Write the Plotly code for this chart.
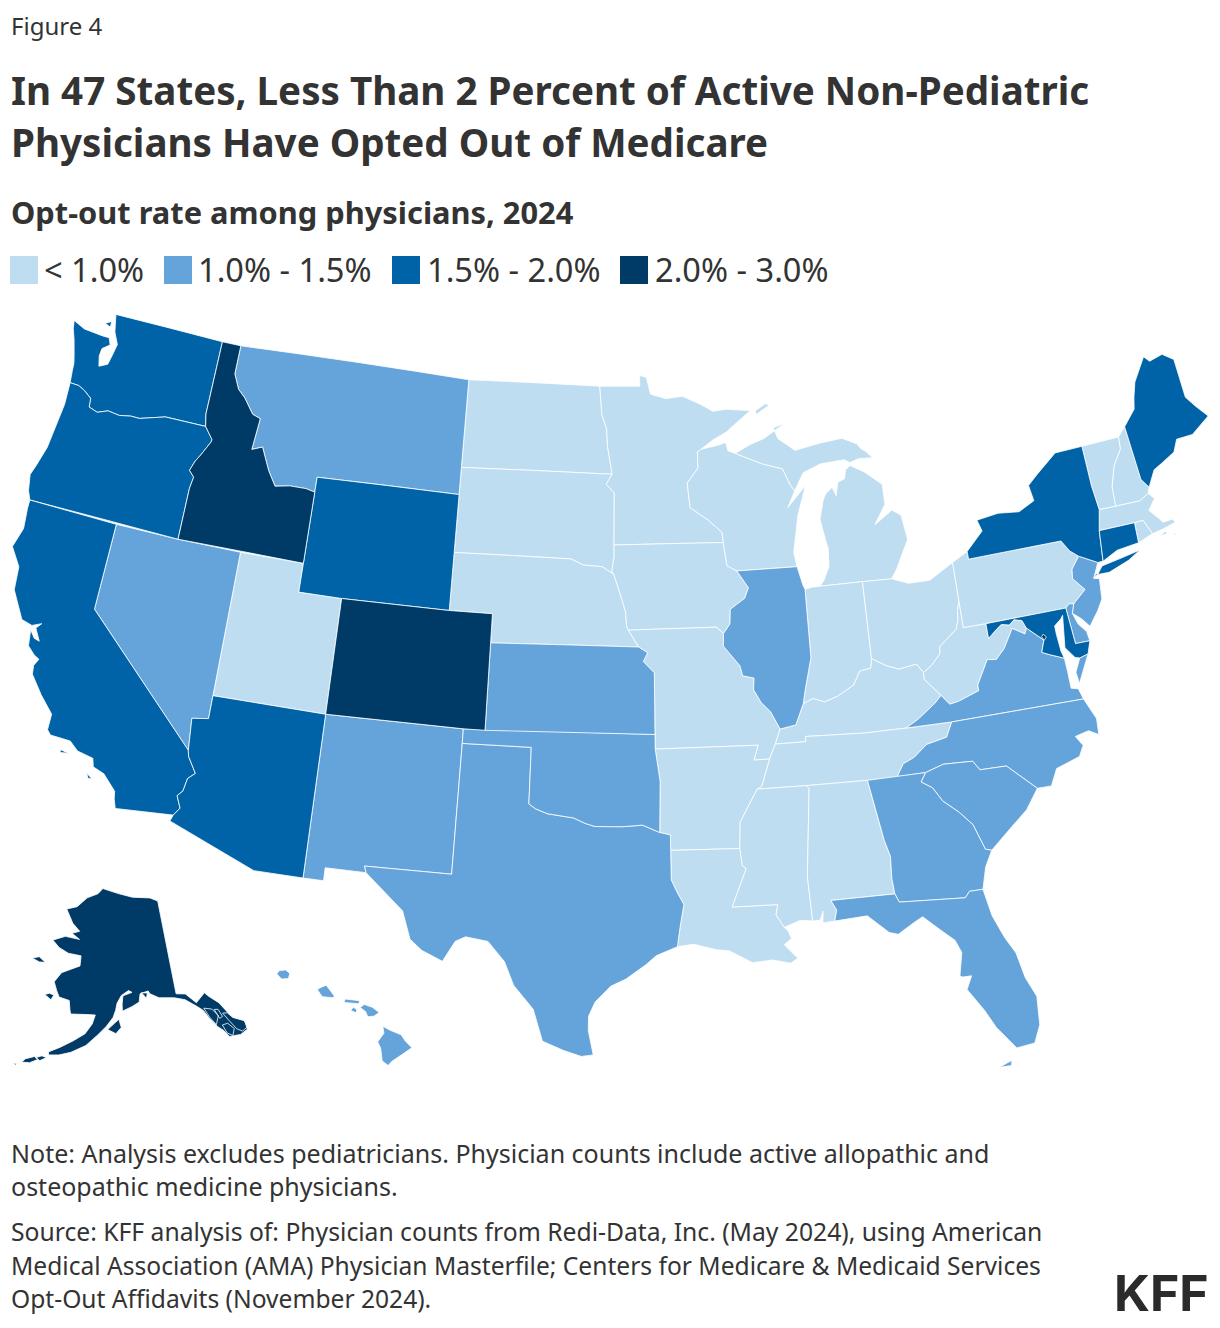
import math
import plotly.graph_objects as go

# ---------- data ----------
CATEGORIES = ["< 1.0%", "1.0% - 1.5%", "1.5% - 2.0%", "2.0% - 3.0%"]
COLORS = ["#BEDDF1", "#64A4DB", "#0063A7", "#003B68"]
BELOW_1 = ["ND","SD","NE","MN","IA","MO","WI","MI","IN","OH","KY","WV","PA","TN","AR","LA","MS","AL","UT","VT","NH","MA","RI"]
FROM_1_TO_15 = ["MT","NV","NM","TX","OK","KS","IL","VA","NC","SC","GA","FL","NJ","DE","HI"]
FROM_15_TO_2 = ["WA","OR","CA","AZ","WY","NY","CT","ME","MD"]
FROM_2_TO_3 = ["ID","CO","AK","DC"]
GROUPS = [BELOW_1, FROM_1_TO_15, FROM_15_TO_2, FROM_2_TO_3]

# shared boundary lines (lon, lat)
COLUMBIA = [(-116.92,46.0),(-118.98,46.0),(-119.3,45.93),(-120.2,45.73),(-120.65,45.73),(-121.2,45.65),(-121.8,45.7),(-122.3,45.55),(-122.75,45.65),(-122.8,45.95),(-123.2,46.15),(-123.55,46.26),(-124.0,46.27)]
SNAKE = [(-117.03,42.0),(-117.03,43.8),(-116.95,44.2),(-117.22,44.4),(-117.05,44.75),(-116.85,45.0),(-116.5,45.5),(-116.47,45.6),(-116.92,46.0)]
BITTERROOT = [(-116.05,49.0),(-116.05,48.0),(-115.7,47.5),(-115.3,47.25),(-114.75,46.75),(-114.33,46.65),(-114.45,45.55),(-113.95,45.7),(-113.45,44.95),(-113.0,44.45),(-112.3,44.55),(-111.5,44.55),(-111.05,44.48)]
COLORADO_R = [(-114.63,35.0),(-114.57,34.8),(-114.15,34.27),(-114.43,34.05),(-114.52,33.6),(-114.72,33.4),(-114.5,33.0),(-114.72,32.72)]
RED_R = [(-100.0,34.56),(-99.7,34.4),(-99.2,34.25),(-98.1,34.13),(-97.6,33.95),(-97.2,33.85),(-96.6,33.85),(-96.0,33.85),(-95.2,33.9),(-94.48,33.64)]
SABINE = [(-94.04,33.02),(-94.04,32.0),(-93.8,31.55),(-93.55,31.15),(-93.72,30.4),(-93.85,29.7)]
RED_N = [(-97.23,49.0),(-97.1,48.0),(-96.85,47.5),(-96.8,46.9),(-96.56,45.94)]
MO_UPPER = [(-96.45,43.5),(-96.44,43.1),(-96.55,42.6),(-96.45,42.49)]
SD_NE = [(-104.05,43.0),(-98.5,43.0),(-97.9,42.8),(-97.0,42.75),(-96.45,42.49)]
MO_MID = [(-96.45,42.49),(-96.1,41.7),(-95.9,41.2),(-95.85,40.7),(-95.77,40.58)]
MN_WI = [(-92.1,46.75),(-92.29,46.66),(-92.29,46.1),(-92.85,45.6),(-92.75,44.75),(-91.9,44.3),(-91.25,43.85),(-91.22,43.5)]
MS_IA_WI = [(-91.22,43.5),(-91.1,42.7),(-90.65,42.5)]
MS_IA_IL = [(-90.65,42.5),(-90.15,41.9),(-90.35,41.55),(-91.05,41.2),(-91.1,40.7),(-91.42,40.38)]
MS_MO_IL = [(-91.42,40.38),(-91.45,39.95),(-90.75,39.25),(-90.65,38.9),(-90.15,38.8),(-90.2,38.4),(-89.9,37.95),(-89.5,37.6),(-89.15,37.0)]
MS_MO_KY = [(-89.15,37.0),(-89.4,36.5),(-89.7,36.0)]
MS_AR_TN = [(-89.7,36.0),(-90.1,35.1),(-90.3,35.0)]
MS_AR_MS = [(-90.3,35.0),(-90.6,34.6),(-91.1,33.9),(-91.17,33.0)]
MS_LA_MS = [(-91.17,33.0),(-91.1,32.4),(-90.95,32.3),(-91.6,31.0),(-89.75,31.0),(-89.85,30.65),(-89.55,30.2)]
OHIO_IL = [(-87.53,39.35),(-87.9,38.3),(-88.05,37.8),(-88.45,37.1),(-89.15,37.0)]
OHIO_IN = [(-84.82,39.1),(-84.9,38.78),(-85.4,38.73),(-85.75,38.27),(-86.5,37.95),(-87.1,37.8),(-87.6,37.95),(-88.05,37.8)]
OHIO_OH = [(-82.6,38.4),(-82.85,38.72),(-83.65,38.63),(-84.2,38.8),(-84.82,39.1)]
OHIO_WV = [(-80.52,40.64),(-80.65,40.35),(-80.7,40.0),(-80.85,39.7),(-81.7,39.2),(-81.75,38.95),(-82.2,38.6),(-82.6,38.4)]
SAVANNAH = [(-83.11,35.0),(-83.35,34.7),(-82.9,34.45),(-82.55,33.95),(-81.95,33.5),(-81.45,33.0),(-81.1,32.1),(-80.85,32.03)]
NC_SC = [(-83.11,35.0),(-82.3,35.2),(-81.05,35.15),(-80.8,34.82),(-79.67,34.8),(-78.55,33.86)]
NC_TN = [(-84.32,34.99),(-84.0,35.4),(-83.5,35.57),(-82.9,35.95),(-82.0,36.1),(-81.68,36.59)]
KY_VA = [(-83.68,36.6),(-83.1,36.85),(-82.3,37.3),(-81.97,37.54)]
KY_WV = [(-81.97,37.54),(-82.6,38.17),(-82.6,38.4)]
VA_WV = [(-81.97,37.54),(-81.65,37.2),(-81.25,37.25),(-80.3,37.5),(-80.3,37.7),(-79.7,38.5),(-79.3,38.45),(-78.87,38.77),(-78.35,39.4),(-77.83,39.13),(-77.72,39.32)]
POTOMAC_WV = [(-77.72,39.32),(-77.85,39.6),(-78.2,39.68),(-78.45,39.53),(-78.8,39.6),(-79.05,39.47),(-79.48,39.2),(-79.48,39.72)]
POTOMAC_VA = [(-77.72,39.32),(-77.05,38.8),(-77.25,38.4),(-76.95,38.28),(-76.32,38.05)]
DELAWARE_PA = [(-74.7,41.36),(-75.13,40.97),(-75.2,40.65),(-74.75,40.2),(-75.4,39.8)]
NY_PA = [(-79.76,42.27),(-79.76,42.0),(-75.35,42.0),(-75.05,41.6),(-74.7,41.36)]
CT_R_VT = [(-71.5,45.01),(-71.55,44.6),(-72.05,44.1),(-72.4,43.4),(-72.46,42.73)]
FL_GA = [(-81.45,30.75),(-82.0,30.75),(-82.2,30.55),(-84.86,30.7),(-85.0,31.0)]
AL_GA = [(-85.6,34.98),(-85.18,32.87),(-85.0,32.3),(-85.05,31.55),(-85.0,31.0)]
AL_MS = [(-88.2,35.0),(-88.1,34.9),(-88.47,31.9),(-88.4,30.35)]

def rev(a):
    return a[::-1]

SHAPES = {
 "WA": [[(-124.73,48.38),(-124.1,48.2),(-123.1,48.15),(-122.75,48.15),(-122.6,47.92),(-122.95,47.72),(-122.98,47.45),(-122.85,47.1),(-122.45,47.25),(-122.35,47.6),(-122.25,48.0),(-122.55,48.4),(-122.75,49.0),(-117.03,49.0),(-117.04,46.42),(-116.92,46.0)]+COLUMBIA[1:]+[(-124.07,46.7),(-124.1,46.95),(-124.2,47.2),(-124.45,47.75),(-124.65,48.1)],
        [(-123.15,48.6),(-122.85,48.72),(-122.85,48.52)]],
 "OR": [[(-124.0,46.27),(-123.95,45.5),(-124.05,44.7),(-124.15,43.9),(-124.4,43.2),(-124.55,42.84),(-124.4,42.3),(-124.21,42.0)]+SNAKE+COLUMBIA[1:-1]],
 "CA": [[(-124.21,42.0),(-120.0,42.0),(-120.0,39.0)]+COLORADO_R+[(-117.12,32.53),(-117.25,32.85),(-117.3,33.1),(-117.9,33.6),(-118.4,33.75),(-118.5,34.03),(-119.2,34.15),(-119.6,34.42),(-120.47,34.45),(-120.65,34.6),(-120.65,35.15),(-121.3,35.7),(-121.9,36.3),(-121.95,36.6),(-121.8,36.85),(-122.05,36.95),(-122.4,37.2),(-122.5,37.75),(-122.25,37.5),(-122.0,37.45),(-122.3,37.85),(-122.1,38.05),(-122.5,37.9),(-123.0,38.0),(-123.7,38.9),(-123.8,39.7),(-124.35,40.3),(-124.1,41.0),(-124.2,41.7)],
        [(-119.9,34.05),(-119.55,34.0),(-119.9,33.95)],[(-118.6,33.48),(-118.35,33.35),(-118.5,33.32)]],
 "NV": [[(-120.0,42.0),(-117.03,42.0),(-114.04,42.0),(-114.04,36.2),(-114.75,36.1),(-114.63,35.0),(-120.0,39.0)]],
 "ID": [[(-117.03,49.0)]+BITTERROOT+[(-111.05,42.0)]+SNAKE+[(-117.04,46.42)]],
 "MT": [[(-116.05,49.0),(-104.05,49.0),(-104.05,45.94),(-104.05,45.0),(-111.05,45.0),(-111.05,44.48)]+rev(BITTERROOT)[1:-1]],
 "WY": [[(-111.05,45.0),(-104.05,45.0),(-104.05,43.0),(-104.05,41.0),(-109.05,41.0),(-111.05,41.0),(-111.05,42.0),(-111.05,44.48)]],
 "UT": [[(-114.04,42.0),(-111.05,42.0),(-111.05,41.0),(-109.05,41.0),(-109.05,37.0),(-114.04,37.0)]],
 "CO": [[(-109.05,41.0),(-104.05,41.0),(-102.05,41.0),(-102.05,40.0),(-102.05,37.0),(-103.0,37.0),(-109.05,37.0)]],
 "AZ": [[(-114.04,37.0),(-109.05,37.0),(-109.05,31.33),(-111.07,31.33),(-114.81,32.5)]+rev(COLORADO_R)+[(-114.75,36.1),(-114.04,36.2)]],
 "NM": [[(-109.05,37.0),(-103.0,37.0),(-103.0,36.5),(-103.04,32.0),(-106.62,32.0),(-106.53,31.78),(-108.21,31.78),(-108.21,31.33),(-109.05,31.33)]],
 "ND": [[(-104.05,49.0)]+RED_N+[(-104.05,45.94)]],
 "SD": [[(-104.05,45.94),(-96.56,45.94),(-96.85,45.6),(-96.45,45.3)]+MO_UPPER+rev(SD_NE)[1:]],
 "NE": [SD_NE+MO_MID+[(-95.31,40.0),(-102.05,40.0),(-102.05,41.0),(-104.05,41.0)]],
 "KS": [[(-102.05,40.0),(-95.31,40.0),(-94.9,39.8),(-95.1,39.5),(-94.61,39.11),(-94.62,37.0),(-102.05,37.0)]],
 "OK": [[(-103.0,37.0),(-94.62,37.0),(-94.62,36.5),(-94.43,35.4)]+rev(RED_R)+[(-100.0,36.5),(-103.0,36.5)]],
 "TX": [[(-103.0,36.5),(-100.0,36.5)]+RED_R+[(-94.04,33.55)]+SABINE+[(-94.7,29.4),(-95.1,29.1),(-95.9,28.6),(-96.5,28.35),(-97.1,27.8),(-97.35,27.3),(-97.35,26.8),(-97.15,25.96),(-97.6,25.9),(-98.3,26.1),(-99.1,26.4),(-99.5,27.5),(-100.3,28.3),(-100.7,29.1),(-101.4,29.77),(-102.3,29.88),(-102.7,29.7),(-103.15,28.98),(-104.0,29.3),(-104.5,29.65),(-104.9,30.6),(-106.0,31.4),(-106.53,31.78),(-106.62,32.0),(-103.04,32.0)]],
 "MN": [[(-97.23,49.0),(-95.15,49.0),(-95.15,49.38),(-94.8,49.3),(-94.6,48.72),(-93.8,48.55),(-92.95,48.62),(-92.0,48.3),(-91.4,48.05),(-90.75,48.1),(-89.5,48.0),(-90.8,47.3),(-91.5,47.05)]+MN_WI+[(-96.45,43.5),(-96.45,45.3),(-96.85,45.6)]+rev(RED_N)[:-1]],
 "IA": [[(-96.45,43.5),(-91.22,43.5)]+MS_IA_WI[1:]+MS_IA_IL[1:]+[(-91.73,40.61),(-95.77,40.58)]+rev(MO_MID)[1:]+rev(MO_UPPER)[1:]],
 "MO": [[(-95.77,40.58),(-91.73,40.61)]+MS_MO_IL+MS_MO_KY[1:]+[(-90.37,36.0),(-90.15,36.5),(-94.62,36.5),(-94.62,37.0),(-94.61,39.11),(-95.1,39.5),(-94.9,39.8),(-95.31,40.0)]],
 "AR": [[(-94.62,36.5),(-90.15,36.5),(-90.37,36.0),(-89.7,36.0)]+MS_AR_TN[1:]+MS_AR_MS[1:]+[(-94.04,33.02),(-94.04,33.55),(-94.48,33.64),(-94.43,35.4)]],
 "LA": [[(-94.04,33.02)]+MS_LA_MS+[(-89.4,30.05),(-89.3,29.8),(-89.6,29.6),(-89.1,29.1),(-89.4,28.95),(-90.1,29.1),(-90.9,29.05),(-91.8,29.5),(-92.3,29.55),(-93.2,29.77)]+rev(SABINE)[:-1]],
 "MS": [[(-90.3,35.0),(-88.2,35.0)]+AL_MS[1:]+[(-88.9,30.4)]+rev(MS_LA_MS)+rev(MS_AR_MS)[1:-1]],
 "AL": [[(-88.2,35.0)]+AL_GA+[(-87.6,31.0),(-87.4,30.65),(-87.52,30.28),(-88.0,30.25),(-87.95,30.65),(-88.1,30.35)]+rev(AL_MS)[:-1]],
 "GA": [[(-85.6,34.98)]+SAVANNAH+[(-81.2,31.5)]+FL_GA+rev(AL_GA)[1:-1]],
 "FL": [[(-87.6,31.0),(-85.0,31.0)]+rev(FL_GA)[1:]+[(-81.25,29.8),(-80.9,29.0),(-80.55,28.4),(-80.35,27.5),(-80.03,26.8),(-80.1,25.8),(-80.4,25.2),(-81.1,25.13),(-81.75,25.95),(-82.1,26.6),(-82.65,27.4),(-82.4,27.85),(-82.75,27.85),(-82.85,27.9),(-82.65,28.7),(-82.85,29.15),(-83.4,29.6),(-84.0,30.1),(-84.35,29.95),(-85.05,29.6),(-85.4,29.7),(-86.2,30.35),(-87.52,30.28),(-87.4,30.65)],
        [(-81.85,24.55),(-81.5,24.68),(-81.35,24.72),(-81.4,24.55)]],
 "SC": [NC_SC+[(-79.15,33.2),(-79.9,32.7)]+rev(SAVANNAH)[:-1]],
 "NC": [[(-84.32,34.99),(-83.11,35.0)]+NC_SC[1:]+[(-77.95,33.85),(-77.6,34.4),(-76.55,34.65),(-76.3,35.0),(-76.55,35.35),(-75.95,35.45),(-75.55,35.25),(-75.5,35.8),(-75.87,36.55),(-81.68,36.59)]+rev(NC_TN)[1:-1]],
 "TN": [[(-90.3,35.0),(-88.2,35.0),(-85.6,34.98),(-84.32,34.99)]+NC_TN[1:]+[(-83.68,36.6),(-85.5,36.6),(-88.07,36.68),(-88.07,36.5),(-89.4,36.5),(-89.7,36.0),(-90.1,35.1)]],
 "KY": [[(-89.15,37.0),(-89.4,36.5),(-88.07,36.5),(-88.07,36.68),(-85.5,36.6)]+KY_VA+KY_WV[1:]+OHIO_OH[1:]+OHIO_IN[1:]+OHIO_IL[3:]],
 "WV": [KY_WV+rev(OHIO_WV)[1:]+[(-80.52,39.72),(-79.48,39.72)]+rev(POTOMAC_WV)[1:]+rev(VA_WV)[1:-1]],
 "OH": [[(-84.82,41.76),(-83.45,41.73),(-82.7,41.5),(-81.7,41.5),(-80.52,41.98)]+OHIO_WV+OHIO_OH[1:]],
 "IN": [[(-87.52,41.7),(-87.2,41.75),(-86.82,41.76),(-84.82,41.76)]+OHIO_IN+[(-87.9,38.3),(-87.53,39.35)]],
 "IL": [[(-90.65,42.5),(-87.8,42.5),(-87.6,41.85),(-87.52,41.7)]+OHIO_IL+rev(MS_MO_IL)[1:]+rev(MS_IA_IL)[1:-1]],
 "WI": [[(-90.65,42.5),(-87.8,42.5),(-87.9,43.0),(-87.7,43.7),(-87.55,44.25),(-87.05,45.25),(-87.6,44.85),(-88.0,44.55),(-87.6,45.1),(-87.8,45.35),(-88.1,45.9),(-89.1,46.13),(-90.4,46.55),(-90.75,46.65),(-90.85,46.95),(-91.2,46.87)]+MN_WI+MS_IA_WI[1:-1]],
 "MI": [[(-86.82,41.76),(-84.82,41.76),(-83.45,41.73),(-83.15,42.05),(-82.9,42.4),(-82.45,43.0),(-82.6,43.85),(-83.0,44.07),(-83.9,43.65),(-83.3,44.3),(-83.3,45.0),(-84.1,45.5),(-84.75,45.78),(-85.0,45.65),(-85.1,45.35),(-85.45,45.25),(-85.6,44.8),(-85.75,45.1),(-86.1,44.9),(-86.25,44.7),(-86.5,44.05),(-86.4,43.6),(-86.25,43.0),(-86.3,42.4),(-86.6,41.95)],
        [(-90.4,46.55),(-89.1,46.13),(-88.1,45.9),(-87.8,45.35),(-87.6,45.1),(-87.1,45.7),(-86.2,45.95),(-85.0,46.0),(-84.75,45.88),(-84.3,45.98),(-83.6,45.95),(-83.9,46.2),(-84.1,46.3),(-84.3,46.5),(-85.0,46.75),(-86.1,46.67),(-87.4,46.5),(-88.2,46.95),(-88.4,47.35),(-87.8,47.47),(-88.9,47.0),(-89.6,46.83)],
        [(-89.2,47.85),(-88.5,48.15),(-88.7,48.2),(-89.25,47.98)]],
 "PA": [[(-80.52,41.98)]+NY_PA+DELAWARE_PA[1:]+[(-75.6,39.84),(-75.79,39.72),(-79.48,39.72),(-80.52,39.72),(-80.52,40.64)]],
 "NY": [[(-79.76,42.27),(-79.76,42.0),(-75.35,42.0),(-75.05,41.6),(-74.7,41.36),(-73.9,41.0),(-73.65,41.0),(-73.49,42.05),(-73.26,42.75),(-73.35,43.6),(-73.35,45.01),(-74.7,45.0),(-75.8,44.4),(-76.3,44.1),(-76.2,43.55),(-77.0,43.28),(-78.0,43.37),(-79.05,43.27),(-78.9,42.87)],
        [(-74.03,40.6),(-73.75,40.85),(-72.6,40.98),(-71.87,41.07),(-72.5,40.82),(-73.5,40.58)],[(-74.25,40.52),(-74.07,40.65),(-74.05,40.6)]],
 "NJ": [[(-74.7,41.36),(-73.9,41.0),(-74.25,40.5),(-74.0,40.45),(-74.1,39.75),(-74.4,39.4),(-74.9,38.93),(-75.2,39.25),(-75.55,39.5),(-75.4,39.8),(-74.75,40.2),(-75.2,40.65),(-75.13,40.97)]],
 "DE": [[(-75.79,39.72),(-75.6,39.84),(-75.4,39.8),(-75.55,39.5),(-75.4,39.1),(-75.1,38.78),(-75.05,38.45),(-75.7,38.46)]],
 "MD": [[(-79.48,39.72),(-75.79,39.72),(-75.7,38.46),(-75.05,38.45),(-75.25,38.03),(-75.65,37.95),(-75.85,38.0),(-76.2,38.4),(-76.1,38.95),(-76.0,39.5),(-76.1,39.4),(-76.45,39.2),(-76.45,38.9),(-76.4,38.3),(-76.32,38.05),(-76.95,38.28),(-77.25,38.4),(-77.05,38.8),(-77.72,39.32),(-77.85,39.6),(-78.2,39.68),(-78.45,39.53),(-78.8,39.6),(-79.05,39.47),(-79.48,39.2)]],
 "DC": [[(-77.12,38.93),(-77.03,39.0),(-76.91,38.89),(-77.04,38.79)]],
 "VA": [[(-83.68,36.6),(-81.68,36.59),(-75.87,36.55),(-76.0,36.93),(-76.3,37.0),(-76.3,37.55),(-76.32,38.05)]+rev(POTOMAC_VA)[1:-1]+[(-77.72,39.32)]+rev(VA_WV)[1:-1]+[(-81.97,37.54)]+rev(KY_VA)[1:-1],
        [(-75.65,37.95),(-75.25,38.03),(-75.9,37.1),(-75.95,37.5)]],
 "VT": [[(-73.35,45.01),(-71.5,45.01)]+CT_R_VT[1:]+[(-73.26,42.75),(-73.35,43.6)]],
 "NH": [[(-71.5,45.01),(-71.08,45.3),(-70.98,43.4),(-70.7,43.07),(-70.82,42.87),(-71.3,42.7)]+rev(CT_R_VT)[:-1]],
 "ME": [[(-71.08,45.3),(-70.4,45.8),(-70.25,46.2),(-70.0,46.7),(-69.23,47.46),(-69.0,47.25),(-68.3,47.36),(-67.8,47.07),(-67.8,45.7),(-67.45,45.3),(-67.0,44.85),(-68.0,44.4),(-68.8,44.4),(-69.1,44.0),(-69.8,43.75),(-70.25,43.6),(-70.7,43.07),(-70.98,43.4)]],
 "MA": [[(-73.49,42.05),(-73.26,42.75),(-72.46,42.73),(-71.3,42.7),(-70.82,42.87),(-70.6,42.65),(-71.0,42.3),(-70.65,41.95),(-70.5,41.78),(-70.05,41.8),(-70.2,42.07),(-69.95,41.67),(-70.65,41.55),(-71.12,41.5),(-71.38,42.02),(-71.8,42.02)],
        [(-70.8,41.35),(-70.5,41.47),(-70.45,41.37)],[(-70.25,41.3),(-70.0,41.3),(-70.1,41.25)]],
 "RI": [[(-71.8,42.02),(-71.38,42.02),(-71.12,41.5),(-71.85,41.32)]],
 "CT": [[(-73.49,42.05),(-71.8,42.02),(-71.85,41.32),(-72.9,41.25),(-73.65,41.0)]],
 "AK": [[(-141.0,69.65),(-143.0,70.1),(-148.0,70.4),(-152.0,70.85),(-156.6,71.35),(-158.0,70.8),(-161.0,70.3),(-163.5,69.3),(-166.2,68.9),(-164.0,67.6),(-162.0,66.9),(-163.8,66.6),(-161.8,66.1),(-165.3,66.2),(-168.1,65.6),(-166.3,65.0),(-164.0,64.6),(-161.0,64.5),(-161.0,63.5),(-163.0,63.05),(-164.8,62.6),(-166.0,61.6),(-165.2,60.8),(-164.5,60.2),(-162.4,60.0),(-162.0,59.0),(-161.8,58.7),(-158.5,58.8),(-157.1,58.8),(-157.6,57.9),(-158.8,56.9),(-160.8,56.1),(-163.0,55.3),(-164.8,54.7),(-164.7,54.4),(-163.0,54.55),(-161.0,54.95),(-158.5,55.75),(-156.5,56.85),(-154.9,57.75),(-153.7,58.6),(-153.2,59.3),(-152.9,60.0),(-152.0,60.75),(-150.5,61.2),(-149.8,61.0),(-151.7,60.7),(-151.9,59.9),(-151.9,59.2),(-150.0,59.6),(-148.5,60.0),(-148.2,60.8),(-146.5,61.0),(-146.2,60.7),(-144.5,60.2),(-141.5,59.95),(-139.5,59.55),(-137.6,58.65),(-136.6,58.1),(-135.9,57.2),(-134.9,56.2),(-134.0,55.6),(-133.4,54.9),(-131.5,54.75),(-130.1,55.0),(-130.0,55.9),(-131.8,56.6),(-132.2,57.0),(-133.4,58.4),(-134.9,59.3),(-135.5,59.75),(-137.5,59.0),(-139.2,60.1),(-141.0,60.3)],
        [(-136.4,58.3),(-135.0,58.0),(-134.2,57.2),(-135.0,56.4),(-135.8,57.3)],[(-134.6,57.9),(-133.9,57.8),(-133.5,57.0),(-134.1,56.9)],[(-134.0,56.2),(-133.0,56.2),(-132.2,55.5),(-132.8,54.9),(-133.6,55.3)],[(-133.3,57.3),(-132.5,57.2),(-131.8,56.6),(-130.1,55.9),(-130.0,55.2),(-131.0,55.0),(-131.8,55.4),(-132.6,56.4)],
        [(-154.7,57.4),(-153.2,57.0),(-152.2,57.6),(-152.6,58.4),(-153.5,58.0)],[(-167.4,60.2),(-166.0,59.8),(-165.6,60.3),(-166.5,60.4)],[(-171.7,63.4),(-170.0,63.2),(-168.7,63.3),(-170.3,63.7)],[(-147.9,60.9),(-147.0,60.3),(-146.7,60.8)],
        [(-166.8,53.9),(-166.0,53.7),(-165.0,54.1),(-165.8,54.2)],[(-168.9,53.2),(-167.6,53.3),(-166.3,53.8),(-167.0,54.0),(-168.4,53.6)],[(-170.2,52.9),(-169.7,52.75),(-169.7,52.95)],[(-174.5,52.2),(-173.0,52.1),(-173.6,52.3)],[(-176.9,51.8),(-176.0,51.7),(-176.5,52.0)],[(-178.2,51.75),(-177.5,51.75),(-177.8,51.9)]],
 "HI": [[(-155.87,20.27),(-155.6,20.13),(-155.2,19.97),(-155.05,19.75),(-154.81,19.52),(-155.2,19.27),(-155.55,19.05),(-155.68,18.91),(-155.9,19.07),(-155.95,19.5),(-156.06,19.73),(-155.83,20.03)],
        [(-156.7,20.92),(-156.5,20.78),(-156.42,20.6),(-156.2,20.62),(-156.0,20.75),(-156.25,20.93),(-156.55,21.03)],[(-157.3,21.1),(-156.75,21.05),(-156.72,21.16),(-157.25,21.22)],[(-157.05,20.82),(-156.85,20.74),(-156.82,20.85),(-156.95,20.93)],
        [(-158.28,21.55),(-158.1,21.3),(-157.7,21.26),(-157.65,21.32),(-157.95,21.7),(-158.15,21.62)],[(-159.78,22.08),(-159.6,21.9),(-159.35,21.92),(-159.3,22.1),(-159.45,22.22),(-159.68,22.2)]],
}

def signed_area(ring):
    return sum(a[0]*b[1]-b[0]*a[1] for a, b in zip(ring, ring[1:]+ring[:1]))

def paths(rings):
    lons, lats = [], []
    for r in rings:
        if signed_area(r) > 0:
            r = r[::-1]
        r = r + [r[0]]
        lons += [p[0] for p in r] + [None]
        lats += [p[1] for p in r] + [None]
    return lons[:-1], lats[:-1]

W, H = 1212, 1320   # page body margin shifts the figure by 8 px
def X(p): return (p-8)/W
def Y(p): return 1-(p-8)/H

# Fit box for the albers-usa projection, so that the frame holds the whole map at the wanted size.
K = 1658.0                    # projection scale in px
MAP_L, MAP_R = 8.0, 1212.0    # frame left/right in page px
MAP_T, MAP_B = 292.0, 1078.0  # frame top/bottom in page px
HX, HY = (MAP_R-MAP_L)/2/K, (MAP_B-MAP_T)/2/K
_s0, _s1 = math.sin(math.radians(29.5)), math.sin(math.radians(45.5))
_n = (_s0+_s1)/2
_c = 1+_s0*(2*_n-_s0)
_r0 = math.sqrt(_c)/_n
def raw(lon, lat):
    r = math.sqrt(_c-2*_n*math.sin(math.radians(lat)))/_n
    a = math.radians(lon+96)*_n
    return r*math.sin(a), _r0-r*math.cos(a)
_cx, _cy = raw(-96.6, 38.7)
def px(lon, lat):
    x, y = raw(lon, lat)
    return x-_cx, -(y-_cy)
def solve(f, lo, hi):
    flo = f(lo)
    for _ in range(60):
        mid = (lo+hi)/2
        if (f(mid) > 0) == (flo > 0):
            lo = mid
        else:
            hi = mid
    return (lo+hi)/2
lat_s = solve(lambda la: px(-96, la)[1]-HY, 5, 38)
lon_w = solve(lambda lo: px(lo, lat_s)[0]+HX, -160, -96)
lon_e = solve(lambda lo: px(lo, lat_s)[0]-HX, -96, -40)
lat_n = solve(lambda la: min(px(lon_w, la)[1], px(lon_e, la)[1])+HY, 38, 75)

fig = go.Figure()
for color, group, cat in zip(COLORS, GROUPS, CATEGORIES):
    for st in group:
        lo, la = paths(SHAPES[st])
        fig.add_trace(go.Scattergeo(lon=lo, lat=la, mode="lines", fill="toself", fillcolor=color,
            line=dict(color="white", width=0.8), name=st, hoverinfo="name", showlegend=False))

TXT="#333333"; FONT="Noto Sans"
def text(x,y,s,size,bold=False,color=TXT,family=FONT):
    fig.add_annotation(xref="paper",yref="paper",x=X(x),y=Y(y),xanchor="left",yanchor="middle",showarrow=False,
        text=f"<b>{s}</b>" if bold else s,font=dict(family=family,size=size,color=color),align="left",borderpad=0)

text(10,25,"Figure 4",24)
text(10,90,"In 47 States, Less Than 2 Percent of Active Non-Pediatric",38.6,True)
text(10,142,"Physicians Have Opted Out of Medicare",38.6,True)
text(10,212,"Opt-out rate among physicians, 2024",30.8,True)
for sx,tx,c,lab in zip([10,164,392,620],[43,197,426,654],COLORS,CATEGORIES):
    fig.add_shape(type="rect",xref="paper",yref="paper",x0=X(sx),x1=X(sx+28),y0=Y(284),y1=Y(256),fillcolor=c,line_width=0)
    text(tx,269,lab,32.6)
text(10,1153,"Note: Analysis excludes pediatricians. Physician counts include active allopathic and",25)
text(10,1186,"osteopathic medicine physicians.",25)
text(10,1231,"Source: KFF analysis of: Physician counts from Redi-Data, Inc. (May 2024), using American",24.7)
text(10,1265,"Medical Association (AMA) Physician Masterfile; Centers for Medicare &amp; Medicaid Services",24.6)
text(10,1298,"Opt-Out Affidavits (November 2024).",24.6)
fig.add_annotation(xref="paper",yref="paper",x=X(1210),y=Y(1293),xanchor="right",yanchor="middle",showarrow=False,borderpad=0,
    text="<b>KFF</b>",font=dict(family="Inter",size=50,color="#2b2b2b"))

fig.update_layout(width=W,height=H,margin=dict(l=0,r=0,t=0,b=0),paper_bgcolor="white",showlegend=False,
    geo=dict(domain=dict(x=[X(MAP_L),X(MAP_R)],y=[Y(MAP_B),Y(MAP_T)]),scope="usa",projection=dict(type="albers usa",scale=1.0),
        lonaxis=dict(range=[lon_w,lon_e]),lataxis=dict(range=[lat_s,lat_n]),
        showland=False,showlakes=False,showcoastlines=False,showsubunits=False,showcountries=False,showframe=False,showocean=False,showrivers=False,bgcolor="white"))
fig.write_html("out.html")
